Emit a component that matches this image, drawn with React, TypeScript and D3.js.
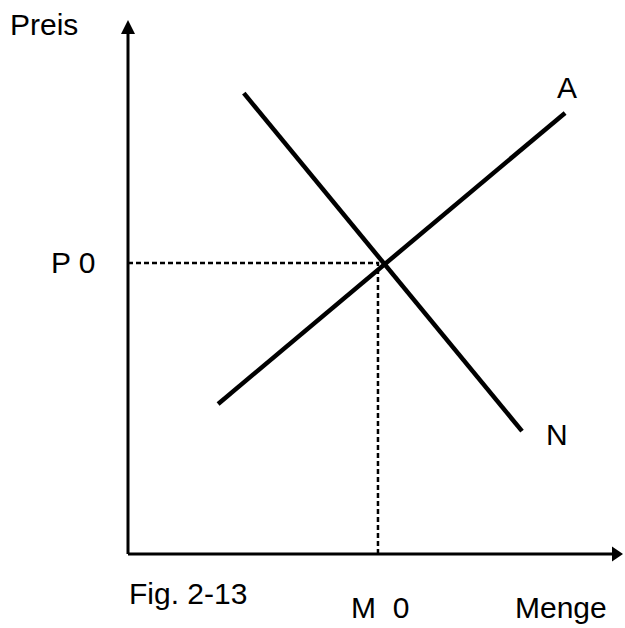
import React, { useEffect, useRef } from "react";
import * as d3 from "d3";

// abstract units: quantity (x) and price (y), both 0..100 along the axes
const demandN = [
  { q: 23.4, p: 86.3 },
  { q: 79.6, p: 23.0 },
];
const supplyA = [
  { q: 18.2, p: 28.1 },
  { q: 88.3, p: 82.6 },
];
const equilibrium = { q: 50.5, p: 54.5 };
const axisMax = { q: 100, p: 100 };
const labels = { y: "Preis", x: "Menge", fig: "Fig. 2-13", p0: "P 0", m0: "M  0", n: "N", a: "A" };

const W = 625;
const H = 628;
const FONT = "'Liberation Sans', Arial, sans-serif";

const App = () => {
  const svgRef = useRef<SVGSVGElement>(null);

  useEffect(() => {
    const svg = d3.select(svgRef.current);
    svg.selectAll("*").remove();

    const x = d3.scaleLinear().domain([0, axisMax.q]).range([128, 623]);
    const y = d3.scaleLinear().domain([0, axisMax.p]).range([554, 20]);

    const line = d3.line<{ q: number; p: number }>()
      .x(d => x(d.q))
      .y(d => y(d.p));

    // dashed guides to the equilibrium
    svg.append("path")
      .attr("d", line([{ q: 0, p: equilibrium.p }, equilibrium, { q: equilibrium.q, p: 0 }]))
      .attr("fill", "none")
      .attr("stroke", "#000")
      .attr("stroke-width", 2.5)
      .attr("stroke-dasharray", "5,3");

    // axes
    const x0 = x(0), y0 = y(0);
    svg.append("path")
      .attr("d", `M${x0},${y0}V${y(axisMax.p) + 12}M${x0},${y0}H${x(axisMax.q) - 10}`)
      .attr("fill", "none")
      .attr("stroke", "#000")
      .attr("stroke-width", 3);
    // arrow heads
    const ty = y(axisMax.p);
    svg.append("path")
      .attr("d", `M${x0},${ty}L${x0 + 7},${ty + 14}L${x0 - 7},${ty + 14}Z`)
      .attr("fill", "#000");
    const tx = x(axisMax.q);
    svg.append("path")
      .attr("d", `M${tx},${y0}L${tx - 11},${y0 - 7.5}L${tx - 11},${y0 + 7.5}Z`)
      .attr("fill", "#000");

    // curves
    [demandN, supplyA].forEach(d => {
      svg.append("path")
        .attr("d", line(d))
        .attr("fill", "none")
        .attr("stroke", "#000")
        .attr("stroke-width", 4.5);
    });

    const text = (s: string, tx: number, ty: number) =>
      svg.append("text")
        .attr("x", tx)
        .attr("y", ty)
        .attr("font-family", FONT)
        .attr("font-size", 30)
        .attr("fill", "#000")
        .style("white-space", "pre")
        .text(s);

    text(labels.y, 10, 35);
    text(labels.p0, 51, y(equilibrium.p) + 10);
    text(labels.a, x(supplyA[1].q) - 8, y(supplyA[1].p) - 15);
    text(labels.n, x(demandN[1].q) + 24, y(demandN[1].p) + 14);
    text(labels.fig, 129, 604);
    text(labels.m0, x(equilibrium.q) - 27, 618);
    text(labels.x, 515, 618);
  }, []);

  return (
    <svg
      ref={svgRef}
      width={W}
      height={H}
      style={{ position: "absolute", left: 0, top: 0, background: "#fff" }}
    />
  );
};

export default App;
